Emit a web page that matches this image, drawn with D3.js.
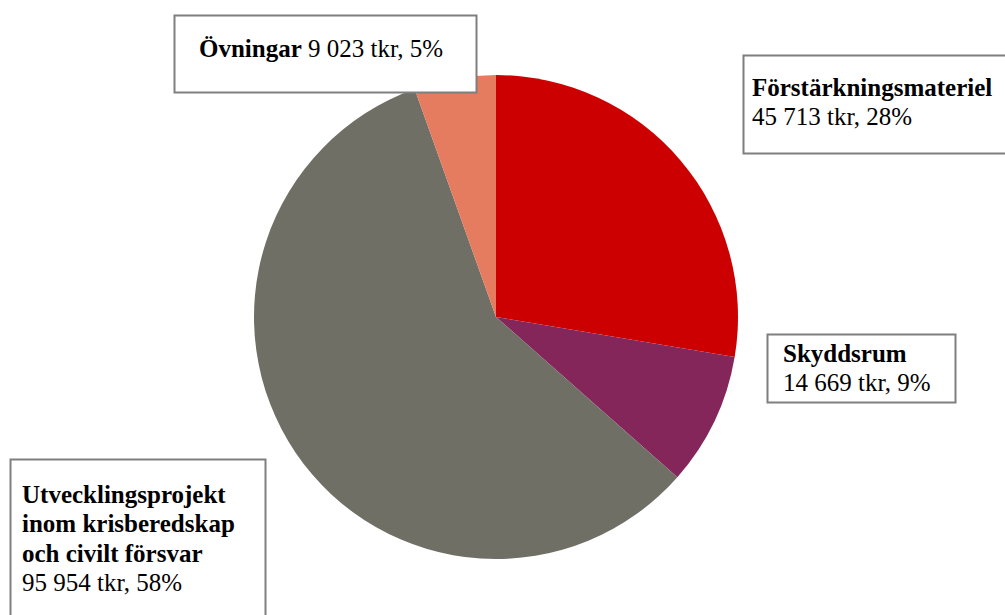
<!DOCTYPE html>
<html>
<head>
<meta charset="utf-8">
<script src="https://cdn.jsdelivr.net/npm/d3@7"></script>
<style>
  body { margin: 0; background: #fff; }
  svg { display: block; }
</style>
</head>
<body>
<svg id="chart" width="1005" height="615"></svg>
<script>
// data
const categories = ["Förstärkningsmateriel", "Skyddsrum", "Utvecklingsprojekt inom krisberedskap och civilt försvar", "Övningar"];
const values = [45713, 14669, 95954, 9023];
const colors = ["#cc0000", "#84265a", "#6f6f66", "#e57b5f"];

// label box layout (name is split over lines inside the box)
const labelBoxes = [
  { x: 743, y: 55, w: 280, h: 98, lines: ["Förstärkningsmateriel"], inline: false, tx: 752, ty: 96 },
  { x: 767, y: 334, w: 188, h: 68, lines: ["Skyddsrum"], inline: false, tx: 783, ty: 362 },
  { x: 10, y: 459, w: 255, h: 180, lines: ["Utvecklingsprojekt", "inom krisberedskap", "och civilt försvar"], inline: false, tx: 22, ty: 503 },
  { x: 174, y: 15, w: 302, h: 77, lines: ["Övningar"], inline: true, tx: 199, ty: 57 }
];

const svg = d3.select("#chart");
const cx = 496, cy = 317, radius = 242;
const lineH = 29.3;
const fontSize = "25px";
const fontFam = "Liberation Serif";

const total = d3.sum(values);
const fmt = v => d3.format(",")(v).replace(/,/g, " ");

const pie = d3.pie().sort(null).value(d => d);
const arc = d3.arc().innerRadius(0).outerRadius(radius);

const g = svg.append("g").attr("transform", "translate(" + cx + "," + cy + ")");

g.selectAll("path")
  .data(pie(values))
  .enter()
  .append("path")
  .attr("d", arc)
  .attr("fill", (d, i) => colors[i]);

// label boxes
labelBoxes.forEach((b, i) => {
  const pct = Math.round(values[i] / total * 100) + "%";
  const valText = fmt(values[i]) + " tkr, " + pct;

  svg.append("rect")
    .attr("x", b.x + 0.5)
    .attr("y", b.y + 0.5)
    .attr("width", b.w)
    .attr("height", b.h)
    .attr("fill", "#fff")
    .attr("stroke", "#7f7f7f")
    .attr("stroke-width", 2);

  const t = svg.append("text")
    .attr("x", b.tx)
    .attr("y", b.ty)
    .attr("font-family", fontFam)
    .attr("font-size", fontSize)
    .attr("fill", "#000");

  if (b.inline) {
    t.append("tspan").attr("font-weight", "bold").text(b.lines[0]);
    t.append("tspan").text(" " + valText);
  } else {
    b.lines.forEach((l, j) => {
      t.append("tspan")
        .attr("x", b.tx)
        .attr("dy", j === 0 ? 0 : lineH)
        .attr("font-weight", "bold")
        .text(l);
    });
    t.append("tspan")
      .attr("x", b.tx)
      .attr("dy", lineH)
      .text(valText);
  }
});
</script>
</body>
</html>
